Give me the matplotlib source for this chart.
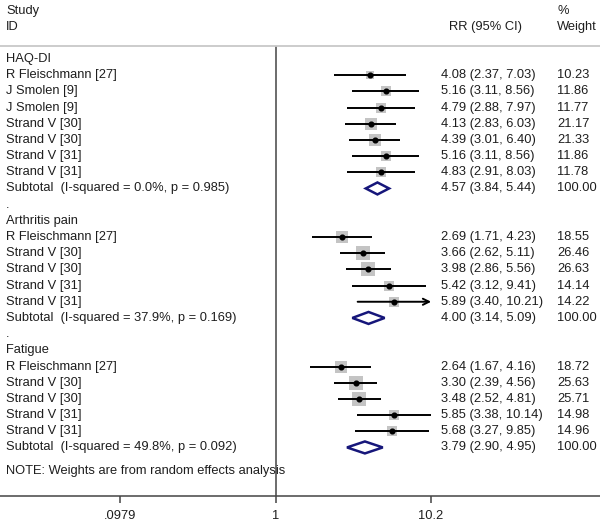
import numpy as np
import matplotlib
matplotlib.use("Agg")
import matplotlib.pyplot as plt
from matplotlib.patches import Polygon

plt.rcParams['font.family'] = ['Liberation Sans', 'DejaVu Sans']

# ---------------- data ----------------
groups = ["HAQ-DI", "Arthritis pain", "Fatigue"]

haq_studies = ["R Fleischmann [27]", "J Smolen [9]", "J Smolen [9]", "Strand V [30]",
               "Strand V [30]", "Strand V [31]", "Strand V [31]"]
haq_rr = [4.08, 5.16, 4.79, 4.13, 4.39, 5.16, 4.83]
haq_lo = [2.37, 3.11, 2.88, 2.83, 3.01, 3.11, 2.91]
haq_hi = [7.03, 8.56, 7.97, 6.03, 6.40, 8.56, 8.03]
haq_w = [10.23, 11.86, 11.77, 21.17, 21.33, 11.86, 11.78]

pain_studies = ["R Fleischmann [27]", "Strand V [30]", "Strand V [30]", "Strand V [31]", "Strand V [31]"]
pain_rr = [2.69, 3.66, 3.98, 5.42, 5.89]
pain_lo = [1.71, 2.62, 2.86, 3.12, 3.40]
pain_hi = [4.23, 5.11, 5.56, 9.41, 10.21]
pain_w = [18.55, 26.46, 26.63, 14.14, 14.22]

fat_studies = ["R Fleischmann [27]", "Strand V [30]", "Strand V [30]", "Strand V [31]", "Strand V [31]"]
fat_rr = [2.64, 3.30, 3.48, 5.85, 5.68]
fat_lo = [1.67, 2.39, 2.52, 3.38, 3.27]
fat_hi = [4.16, 4.56, 4.81, 10.14, 9.85]
fat_w = [18.72, 25.63, 25.71, 14.98, 14.96]

sub_labels = ["Subtotal  (I-squared = 0.0%, p = 0.985)",
              "Subtotal  (I-squared = 37.9%, p = 0.169)",
              "Subtotal  (I-squared = 49.8%, p = 0.092)"]
sub_rr = [4.57, 4.00, 3.79]
sub_lo = [3.84, 3.14, 2.90]
sub_hi = [5.44, 5.09, 4.95]
sub_w = [100.00, 100.00, 100.00]

tick_vals = [0.0979, 1, 10.2]
tick_labels = [".0979", "1", "10.2"]
note = "NOTE: Weights are from random effects analysis"

# ---------------- figure ----------------
W, H = 600, 525
fig = plt.figure(figsize=(W / 100, H / 100), dpi=100)
ax = fig.add_axes([0, (H - 496) / H, 1, (496 - 46) / H])
ax.set_xscale('log')
decade = 154.0
x1px = 275.8
ax.set_xlim(10 ** (-x1px / decade), 10 ** ((W - x1px) / decade))
ax.set_ylim(27, -0.8)

txt_color = '#1e1e1e'
fs = 9.3
xmax_clip = tick_vals[-1]

for s in ['left', 'right']:
    ax.spines[s].set_visible(False)
ax.spines['top'].set_color('#c8c8c8')
ax.spines['top'].set_linewidth(1.3)
ax.spines['bottom'].set_color('#444444')
ax.spines['bottom'].set_linewidth(1.1)
ax.set_yticks([])
ax.xaxis.set_minor_locator(matplotlib.ticker.NullLocator())
ax.set_xticks(tick_vals)
ax.set_xticklabels(tick_labels)
ax.tick_params(axis='x', which='major', direction='out', length=5, width=1.1,
               color='#444444', labelsize=fs, labelcolor=txt_color, pad=5)

# null line
ax.axvline(1, color='#444444', lw=1.1, zorder=1)

X_LEFT = 6 / W
X_EST = 441 / W
X_W = 557 / W
trans = ax.get_yaxis_transform()  # x in axes fraction, y in data

def put(x, y, s):
    ax.text(x, y, s, transform=trans, ha='left', va='center', fontsize=fs,
            color=txt_color, clip_on=False)

# headers
put(X_LEFT, -2.95, "Study")
put(X_LEFT, -1.95, "ID")
put(449 / W, -1.95, "RR (95% CI)")
put(X_W, -2.95, "%")
put(X_W, -1.95, "Weight")

all_groups = [
    (haq_studies, haq_rr, haq_lo, haq_hi, haq_w),
    (pain_studies, pain_rr, pain_lo, pain_hi, pain_w),
    (fat_studies, fat_rr, fat_lo, fat_hi, fat_w),
]

row = 0
for gi, (names, rr, lo, hi, w) in enumerate(all_groups):
    if gi > 0:
        put(X_LEFT, row, ".")
        row += 1
    put(X_LEFT, row, groups[gi])
    row += 1
    for n, r, l, h, wt in zip(names, rr, lo, hi, w):
        put(X_LEFT, row, n)
        put(X_EST, row, f"{r:.2f} ({l:.2f}, {h:.2f})")
        put(X_W, row, f"{wt:.2f}")
        side = 1.9 * np.sqrt(wt)
        ax.plot([r], [row], marker='s', markersize=side, color='#c4c4c4',
                markeredgewidth=0, linestyle='none', zorder=2)
        if h > xmax_clip:
            ax.annotate('', xy=(xmax_clip, row), xytext=(l, row),
                        arrowprops=dict(arrowstyle='->', lw=1.4, color='black',
                                        shrinkA=0, shrinkB=0, mutation_scale=11),
                        zorder=3)
        else:
            ax.plot([l, h], [row, row], color='black', lw=1.4, zorder=3,
                    solid_capstyle='butt')
        ax.plot([r], [row], marker='o', markersize=3.4, color='black',
                linestyle='none', zorder=4)
        row += 1
    # subtotal
    put(X_LEFT, row, sub_labels[gi])
    put(X_EST, row, f"{sub_rr[gi]:.2f} ({sub_lo[gi]:.2f}, {sub_hi[gi]:.2f})")
    put(X_W, row, f"{sub_w[gi]:.2f}")
    hh = 0.37
    dia = Polygon([(sub_lo[gi], row), (sub_rr[gi], row - hh), (sub_hi[gi], row),
                   (sub_rr[gi], row + hh)], closed=True, fill=False,
                  edgecolor='#16167a', lw=1.8, zorder=3)
    ax.add_patch(dia)
    row += 1

put(X_LEFT, row + 0.45, note)

fig.savefig("out.png", dpi=100)
